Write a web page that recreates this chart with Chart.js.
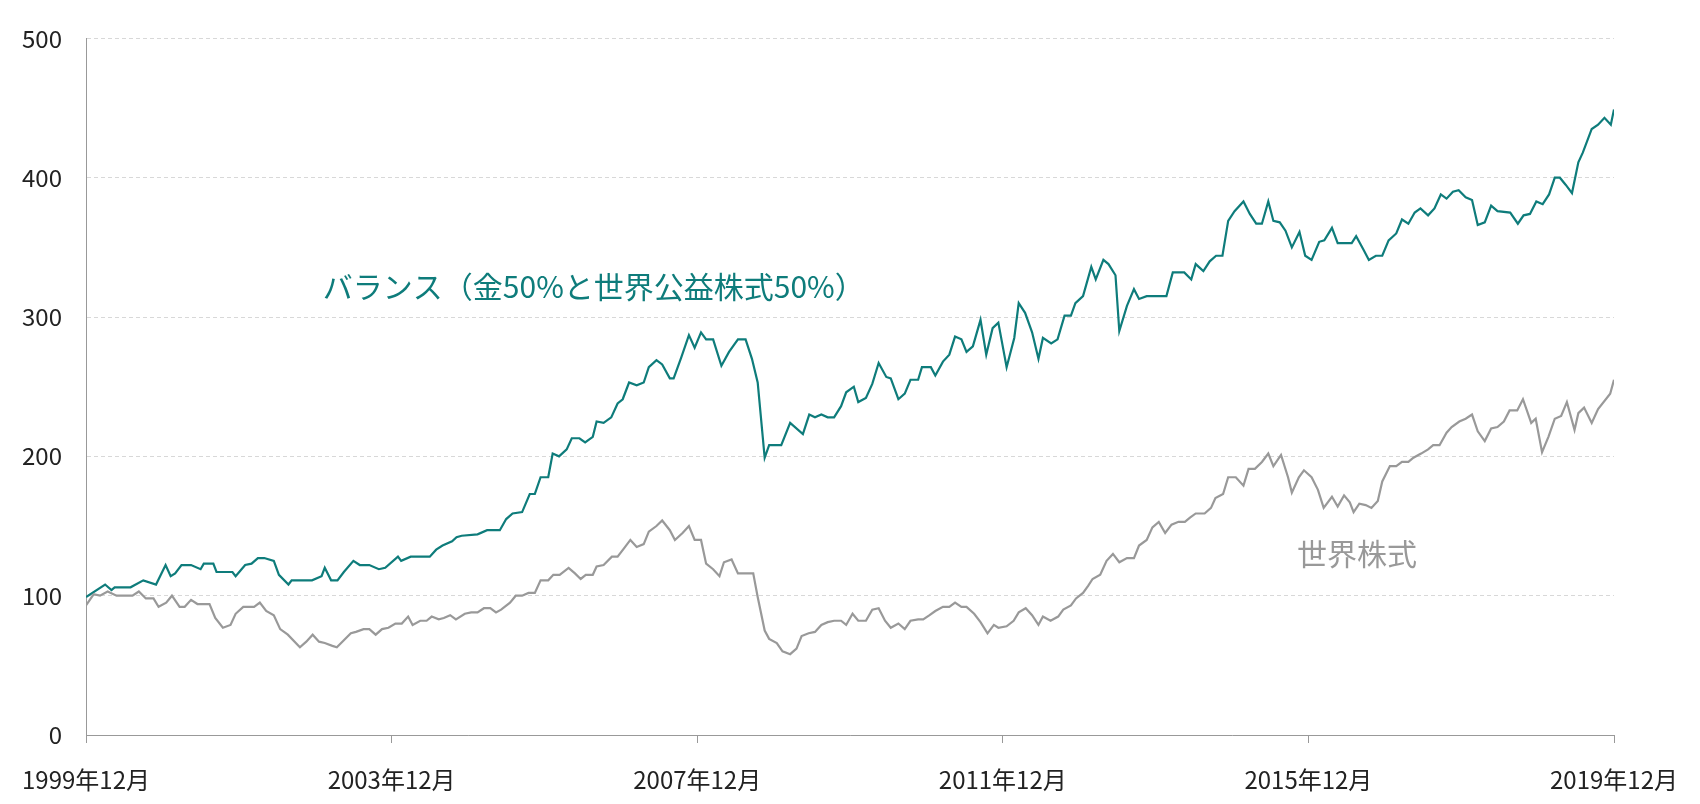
<!DOCTYPE html>
<html>
<head>
<meta charset="utf-8">
<script src="https://cdn.jsdelivr.net/npm/chart.js@4"></script>
<style>
  body { margin: 0; background: #fff; }
  #wrap { width: 1700px; height: 804px; }
</style>
</head>
<body>
<div id="wrap"><canvas id="chart"></canvas></div>
<script>
// months since 1999-12 and index values
const balanceMonths = [0,3,4,4.5,7,9,11,12.5,13.3,14,15,16.5,18,18.5,20,20.5,23,23.5,25,26,27,28,29.5,30.3,31.8,32.3,35.5,37,37.5,38.5,39.5,40.5,42,43,44.5,46,47,49,49.5,51,54,55,56,57.5,58.2,59,61.5,63,65,66,67,68.5,69.7,70.5,71.4,72.6,73.3,74.3,75.5,76.3,77.5,78.4,79.6,80.2,81.3,82.5,83.5,84.3,85.3,86.5,87.6,88.4,89.6,90.5,91.7,92.3,93.5,94.7,95.6,96.6,97.4,98.5,99.8,101,102.4,103.6,104.6,105.5,106.6,107.3,109.2,110.6,112.6,113.6,114.5,115.5,116.5,117.5,118.6,119.4,120.6,121.3,122.5,123.5,124.5,125.7,126.4,127.6,128.6,129.5,130.7,131.3,132.7,133.4,134.6,135.6,136.5,137.5,138.3,139.3,140.5,141.4,142.4,143.3,144.6,145.8,146.5,147.5,148.6,149.6,150.3,151.6,152.6,153.7,154.7,155.4,156.6,157.9,158.6,159.8,160.6,161.7,162.3,163.5,164.6,165.4,166.6,169.7,170.7,172.5,173.6,174.3,175.5,176.5,177.5,178.5,179.4,180.4,181.8,182.8,183.8,184.7,185.7,186.5,187.5,188.4,189.4,190.6,191.5,192.5,193.7,194.5,195.7,196.6,198.8,199.5,200.7,201.5,202.6,203.6,204.6,205.8,206.7,207.7,208.7,209.6,210.8,211.8,212.8,213.7,214.7,215.6,216.7,217.7,218.6,219.7,220.7,221.7,223.7,224.9,225.8,226.8,227.8,228.8,229.8,230.7,231.5,232.4,233.4,234.4,235.1,236.5,237.5,238.5,239.5,240];
const balanceValues = [99,108,104,106,106,111,108,122,114,116,122,122,119,123,123,117,117,114,122,123,127,127,125,115,108,111,111,114,120,111,111,117,125,122,122,119,120,128,125,128,128,133,136,139,142,143,144,147,147,155,159,160,173,173,185,185,202,200,205,213,213,210,214,225,224,228,238,241,253,251,253,264,269,266,256,256,271,287,278,289,284,284,265,275,284,284,270,253,199,208,208,224,216,230,228,230,228,228,236,246,250,239,242,252,267,257,256,241,245,255,255,264,264,258,268,273,286,284,275,279,298,273,292,296,264,285,310,303,289,270,285,281,284,301,301,310,315,336,327,341,338,330,290,308,320,313,315,315,332,332,327,338,333,340,344,344,369,376,383,374,367,367,383,369,368,362,350,361,344,341,354,355,364,353,353,358,348,341,344,344,355,360,370,367,375,378,373,378,388,385,390,391,386,384,366,368,380,376,375,367,373,374,383,381,388,400,400,395,389,411,418,435,438,443,438,449];

const worldMonths = [0,1.2,2.2,3.4,4.8,7.3,8.3,9.4,10.6,11.4,12.6,13.5,14.7,15.5,16.5,17.5,19.4,20.3,21.5,22.7,23.5,24.7,26.4,27.3,28.3,29.5,30.5,31.7,33.6,34.6,35.6,36.6,37.5,38.7,39.4,40.5,41.6,42.4,43.6,44.5,45.5,46.5,47.5,48.6,49.6,50.6,51.3,52.5,53.5,54.3,55.4,56.2,57.2,58.1,59.5,60.5,61.5,62.5,63.5,64.4,65.2,66.6,67.5,68.5,69.5,70.5,71.4,72.6,73.4,74.4,75.8,76.8,77.7,78.5,79.6,80.2,81.3,82.6,83.5,84.5,85.5,86.5,87.6,88.4,89.6,90.5,91.7,92.5,93.7,94.7,95.6,96.6,97.4,98.5,99.5,100.2,101.4,102.4,104.8,105.5,106.6,107.3,108.5,109.4,110.6,111.6,112.4,113.5,114.5,115.5,116.5,117.5,118.6,119.4,120.4,121.3,122.5,123.5,124.5,125.5,126.4,127.6,128.6,129.5,130.7,131.5,132.5,133.4,134.6,135.6,136.5,137.5,138.3,139.5,140.5,141.6,142.6,143.3,144.6,145.7,146.5,147.6,148.6,149.6,150.3,151.5,152.7,153.5,154.7,155.5,156.6,157.4,158.1,159.3,160.3,161.3,162.3,163.5,164.6,165.4,166.6,167.5,168.5,169.5,170.5,171.6,172.6,173.4,174.3,175.7,176.7,177.4,178.6,179.4,180.6,181.8,182.6,183.6,184.7,185.7,186.5,187.7,188.8,189.4,190.5,191.3,192.5,193.5,194.4,195.7,196.6,197.6,198.5,199.1,200,201,201.9,202.9,203.6,204.8,205.8,206.7,207.7,208.5,209.7,210.8,211.6,212.6,213.7,214.5,215.7,216.7,217.7,218.6,219.7,220.7,221.7,222.7,223.6,224.8,225.7,227,227.7,228.7,229.7,230.7,231.7,232.6,233.8,234.4,235.3,236.5,237.5,239.4,240];
const worldValues = [93,101,100,103,100,100,103,98,98,92,95,100,92,92,97,94,94,84,77,79,87,92,92,95,89,86,76,72,63,67,72,67,66,64,63,68,73,74,76,76,72,76,77,80,80,85,79,82,82,85,83,84,86,83,87,88,88,91,91,88,90,95,100,100,102,102,111,111,115,115,120,116,112,115,115,121,122,128,128,134,140,135,137,146,150,154,147,140,145,150,140,140,123,119,114,124,126,116,116,99,75,69,66,60,58,62,71,73,74,79,81,82,82,79,87,82,82,90,91,82,77,80,76,82,83,83,86,89,92,92,95,92,92,87,81,73,79,77,78,82,88,91,86,79,85,82,85,90,93,98,102,107,112,115,125,130,124,127,127,136,140,149,153,145,151,153,153,156,159,159,163,170,173,185,185,179,191,191,196,202,193,201,185,174,185,190,185,176,163,171,164,172,167,160,166,165,163,168,182,193,193,196,196,199,202,205,208,208,217,221,225,227,230,218,211,220,221,225,233,233,241,224,227,203,214,227,229,239,219,231,235,224,234,245,255];

const tickMonths = [0,48,96,144,192,240];
const tickLabels = ['1999年12月','2003年12月','2007年12月','2011年12月','2015年12月','2019年12月'];

const balanceLabel = 'バランス（金50%と世界公益株式50%）';
const worldLabel = '世界株式';
const TEAL = '#0e7c7b';
const GREY = '#999999';
const FONT = '"Noto Sans CJK JP", "Noto Sans", sans-serif';

const toXY = (xs, ys) => xs.map((x, i) => ({ x: x, y: ys[i] }));

// texts placed in data coordinates
const labelPlugin = {
  id: 'labels',
  afterDatasetsDraw(chart) {
    const { ctx, scales } = chart;
    ctx.save();
    ctx.font = '30px ' + FONT;
    ctx.textBaseline = 'middle';
    ctx.textAlign = 'left';
    ctx.fillStyle = TEAL;
    ctx.fillText(balanceLabel, scales.x.getPixelForValue(37.2), scales.y.getPixelForValue(322));
    ctx.fillStyle = GREY;
    ctx.fillText(worldLabel, scales.x.getPixelForValue(190.2), scales.y.getPixelForValue(130));
    ctx.restore();
  }
};

new Chart(document.getElementById('chart'), {
  type: 'line',
  data: {
    datasets: [
      { data: toXY(worldMonths, worldValues), borderColor: GREY, borderWidth: 2.2, pointRadius: 0, tension: 0 },
      { data: toXY(balanceMonths, balanceValues), borderColor: TEAL, borderWidth: 2.2, pointRadius: 0, tension: 0 }
    ]
  },
  options: {
    responsive: true,
    maintainAspectRatio: false,
    animation: false,
    layout: { padding: { top: 25, right: 86, left: 0, bottom: 0 } },
    plugins: { legend: { display: false }, tooltip: { enabled: false } },
    scales: {
      x: {
        type: 'linear', min: 0, max: 240,
        afterBuildTicks: (s) => { s.ticks = tickMonths.map(v => ({ value: v })); },
        afterFit: (s) => { s.height = 69; },
        grid: { drawOnChartArea: false, drawTicks: true, tickLength: 8, color: '#999' },
        border: { color: '#999' },
        ticks: {
          color: '#222', font: { size: 24, family: FONT }, padding: 22, maxRotation: 0,
          callback: (v) => tickLabels[tickMonths.indexOf(v)]
        }
      },
      y: {
        min: 0, max: 500,
        afterFit: (s) => { s.width = 86; },
        ticks: { stepSize: 100, color: '#222', font: { size: 24, family: FONT }, padding: 24 },
        grid: { color: '#d8d8d8', drawTicks: false },
        border: { color: '#999', dash: [4, 3] }
      }
    }
  },
  plugins: [labelPlugin]
});
</script>
</body>
</html>
